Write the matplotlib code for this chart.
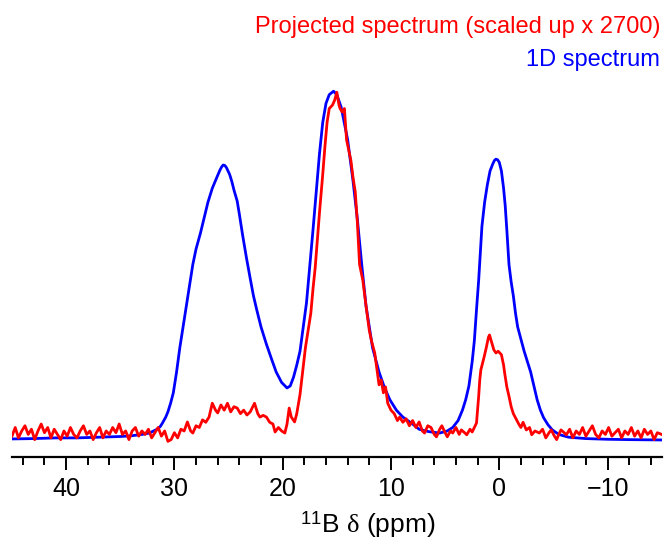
import numpy as np
import matplotlib
matplotlib.use("Agg")
import matplotlib.pyplot as plt
from matplotlib.ticker import MultipleLocator

plt.rcParams['font.family'] = ['Liberation Sans', 'DejaVu Sans']
plt.rcParams['mathtext.fontset'] = 'custom'
plt.rcParams['mathtext.rm'] = 'Liberation Sans'
plt.rcParams['mathtext.it'] = 'Liberation Serif'

## 1D spectrum (blue); intensity scaled so the main peak = 1
blue_ppm = [45, 43, 41, 39, 37, 35, 34, 33, 32.3, 31.6, 31.3, 31.1, 30.8, 30.6, 30.35,
            30.1, 29.95, 29.8, 29.5, 29.3, 29.1, 28.8, 28.55, 28.3, 28.0, 27.6, 27.25,
            26.9, 26.5, 26.1, 25.8, 25.65, 25.5, 25.35, 25.2, 24.9, 24.7, 24.5, 24.2,
            24.0, 23.7, 23.35, 23.0, 22.7, 22.4, 22.0, 21.5, 21.0, 20.6, 20.1, 19.6,
            19.3, 19.0, 18.7, 18.4, 17.8, 17.2, 16.6, 16.3, 16.0, 15.7, 15.3, 15.0, 14.6,
            14.0, 13.5, 13.1, 12.7, 12.3, 11.7, 11.1, 10.6, 10.1, 9.5, 8.9, 8.0, 7.4,
            6.5, 5.5, 4.8, 4.3, 3.8, 3.4, 3.1, 2.8, 2.5, 2.3, 2.1, 1.9, 1.6, 1.35, 1.1,
            0.85, 0.6, 0.45, 0.3, 0.15, 0.0, -0.2, -0.4, -0.55, -0.7, -0.9, -1.1, -1.3,
            -1.5, -1.7, -2.0, -2.3, -2.6, -2.9, -3.2, -3.5, -3.8, -4.1, -4.5, -4.9, -5.5,
            -6.4, -8, -10, -12, -15]
blue_int = [-0.003, -0.002, 0.0, 0.0, 0.002, 0.004, 0.006, 0.01, 0.014, 0.025, 0.033,
            0.043, 0.06, 0.075, 0.10, 0.13, 0.16, 0.19, 0.26, 0.30, 0.34, 0.40, 0.45,
            0.50, 0.545, 0.59, 0.635, 0.68, 0.72, 0.75, 0.772, 0.781, 0.787, 0.786, 0.78,
            0.76, 0.74, 0.715, 0.683, 0.645, 0.585, 0.52, 0.46, 0.41, 0.37, 0.32, 0.27,
            0.225, 0.19, 0.16, 0.144, 0.15, 0.175, 0.21, 0.25, 0.39, 0.60, 0.82, 0.91,
            0.965, 0.99, 1.0, 0.99, 0.954, 0.86, 0.74, 0.63, 0.50, 0.38, 0.26, 0.19,
            0.145, 0.11, 0.08, 0.06, 0.04, 0.025, 0.018, 0.014, 0.02, 0.03, 0.05, 0.08,
            0.11, 0.15, 0.22, 0.28, 0.37, 0.455, 0.61, 0.68, 0.73, 0.77, 0.79, 0.80,
            0.804, 0.802, 0.795, 0.77, 0.72, 0.67, 0.60, 0.50, 0.45, 0.41, 0.36, 0.32,
            0.285, 0.25, 0.22, 0.19, 0.15, 0.11, 0.08, 0.058, 0.038, 0.023, 0.01, 0.002,
            -0.002, -0.004, -0.005, -0.006]

## projected spectrum (red), x 2700
red_ppm = [45.0, 44.7, 44.4, 44.1, 43.8, 43.5, 43.2, 42.9, 42.6, 42.3, 42.0, 41.7, 41.4,
           41.1, 40.8, 40.5, 40.2, 39.9, 39.6, 39.3, 39.0, 38.7, 38.4, 38.1, 37.8, 37.5,
           37.2, 36.9, 36.6, 36.3, 36.0, 35.7, 35.4, 35.1, 34.8, 34.5, 34.2, 33.9, 33.6,
           33.3, 33.0, 32.7, 32.4, 32.1, 31.8, 31.5, 31.2, 30.9, 30.6, 30.3, 30.0, 29.7,
           29.4, 29.1, 28.8, 28.5, 28.3, 28.0, 27.7, 27.4, 27.1, 26.8, 26.5, 26.2, 26.0,
           25.7, 25.4, 25.1, 24.8, 24.5, 24.2, 23.9, 23.6, 23.3, 23.0, 22.6, 22.3, 22.1,
           21.8, 21.5, 21.2, 20.9, 20.7, 20.4, 20.1, 19.8, 19.6, 19.4, 19.2, 18.9, 18.7,
           18.4, 18.2, 17.9, 17.7, 17.4, 17.2, 17.0, 16.8, 16.6, 16.3, 16.1, 15.9, 15.7,
           15.4, 15.2, 15.0, 14.8, 14.7, 14.5, 14.3, 14.1, 13.9, 13.7, 13.5, 13.3, 13.1,
           12.9, 12.7, 12.6, 12.3, 12.0, 11.8, 11.5, 11.3, 11.1, 10.9, 10.7, 10.5, 10.3,
           10.0, 9.7, 9.4, 9.2, 8.9, 8.6, 8.3, 8.0, 7.7, 7.4, 7.1, 6.9, 6.6, 6.3, 6.0,
           5.8, 5.5, 5.3, 5.0, 4.8, 4.5, 4.3, 4.0, 3.7, 3.5, 3.2, 3.0, 2.7, 2.5, 2.3,
           2.1, 1.9, 1.8, 1.7, 1.5, 1.4, 1.2, 1.0, 0.9, 0.7, 0.5, 0.3, 0.1, -0.2, -0.4,
           -0.5, -0.7, -0.9, -1.1, -1.3, -1.6, -1.8, -2.0, -2.2, -2.5, -2.8, -3.0, -3.3,
           -3.7, -4.0, -4.3, -4.6, -4.8, -5.1, -5.3, -5.5, -5.7, -6.0, -6.2, -6.5, -6.8,
           -7.1, -7.4, -7.7, -8.0, -8.3, -8.6, -8.9, -9.2, -9.5, -9.8, -10.1, -10.4,
           -10.7, -11.0, -11.3, -11.6, -11.9, -12.2, -12.5, -12.8, -13.1, -13.4, -13.7,
           -14.0, -14.3, -14.6, -15.0]
red_int = [0.005, 0.03, 0.0, 0.02, 0.035, 0.01, 0.025, -0.005, 0.02, 0.04, 0.015, 0.03,
           0.0, 0.025, 0.01, -0.005, 0.02, 0.005, 0.03, 0.01, 0.0, 0.02, 0.035, 0.01,
           0.02, -0.005, 0.015, 0.03, 0.0, 0.02, 0.01, 0.03, 0.015, 0.04, 0.01, 0.02,
           -0.005, 0.02, 0.03, 0.005, 0.02, 0.01, 0.025, 0.0, 0.015, 0.03, 0.005, 0.02,
           -0.01, -0.005, 0.015, 0.0, 0.025, 0.02, 0.046, 0.02, 0.014, 0.035, 0.03, 0.052,
           0.045, 0.06, 0.10, 0.08, 0.072, 0.095, 0.08, 0.10, 0.075, 0.09, 0.086, 0.07,
           0.08, 0.066, 0.075, 0.10, 0.07, 0.06, 0.065, 0.06, 0.045, 0.04, 0.017, 0.03,
           0.02, 0.014, 0.04, 0.086, 0.06, 0.046, 0.07, 0.125, 0.18, 0.26, 0.30, 0.36,
           0.43, 0.49, 0.57, 0.65, 0.76, 0.84, 0.91, 0.95, 0.96, 0.974, 0.997, 0.96,
           0.95, 0.94, 0.95, 0.86, 0.83, 0.80, 0.75, 0.71, 0.62, 0.50, 0.47, 0.455, 0.38,
           0.31, 0.28, 0.245, 0.20, 0.153, 0.167, 0.13, 0.147, 0.10, 0.08, 0.07, 0.05,
           0.06, 0.045, 0.055, 0.035, 0.05, 0.03, 0.046, 0.02, 0.014, 0.035, 0.03, 0.01,
           0.003, 0.025, 0.035, 0.015, 0.003, 0.02, 0.014, 0.03, 0.01, 0.023, 0.015,
           0.009, 0.025, 0.017, 0.03, 0.043, 0.12, 0.167, 0.196, 0.22, 0.233, 0.26, 0.29,
           0.297, 0.275, 0.254, 0.245, 0.25, 0.24, 0.21, 0.187, 0.147, 0.12, 0.09, 0.07,
           0.052, 0.04, 0.03, 0.045, 0.023, 0.03, 0.009, 0.02, 0.014, 0.025, 0.0, 0.015,
           0.023, 0.005, -0.005, 0.01, 0.023, 0.015, 0.009, 0.025, 0.0, 0.02, 0.01, 0.03,
           0.005, 0.02, 0.035, 0.01, 0.0, 0.02, 0.01, 0.03, 0.005, 0.015, 0.025, 0.0,
           0.02, 0.01, 0.03, 0.005, 0.02, 0.0, 0.025, 0.01, 0.02, -0.005, 0.015, 0.01]

fig = plt.figure(figsize=(6.65, 5.44), dpi=100)
ax = fig.add_axes([0.018, 0.16, 0.977, 0.803])

ax.plot(blue_ppm, blue_int, color='#0000ff', lw=2)
ax.plot(red_ppm, red_int, color='#ff0000', lw=2)

ax.set_xlim(45, -15)
ax.set_ylim(-0.055, 1.205)

for s in ['top', 'right', 'left']:
  ax.spines[s].set_visible(False)
ax.spines['bottom'].set_linewidth(1.6)
ax.set_yticks([])
ax.xaxis.set_minor_locator(MultipleLocator(2))
ax.tick_params(axis='x', which='major', length=9.5, width=1.4, labelsize=18, pad=5)
ax.tick_params(axis='x', which='minor', length=5.5, width=1.4)
ticks = [40, 30, 20, 10, 0, -10]
ax.set_xticks(ticks)
ax.set_xticklabels([str(t).replace('-', '\u2212') for t in ticks])

## axis title sits a bit right of the axes centre in the original
fig.text(368 / 665, 1 - 525 / 544, r'$^{11}$B $\delta$ (ppm)', fontsize=19,
         ha='center', va='center')

fig.text(0.993, 0.95, 'Projected spectrum (scaled up x 2700)', color='#ff0000',
         fontsize=17, ha='right', va='center')
fig.text(0.993, 0.89, '1D spectrum', color='#0000ff', fontsize=17, ha='right', va='center')

fig.savefig('out.png', dpi=100)
